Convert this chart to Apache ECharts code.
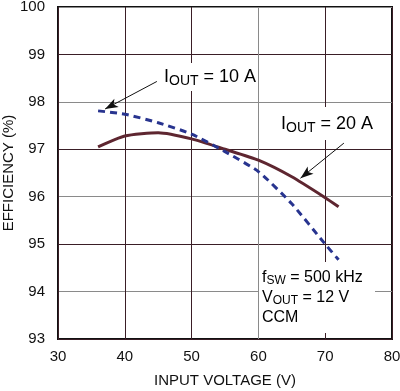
<!DOCTYPE html>
<html><head><meta charset="utf-8">
<script src="https://cdn.jsdelivr.net/npm/echarts@6/dist/echarts.min.js"></script>
<style>html,body{margin:0;padding:0;background:#fff}#c{width:400px;height:391px}</style>
</head><body><div id="c"></div>
<script>
const vin10 = [36, 40, 45, 50, 55, 60, 65, 70, 72];
const eff10 = [97.81, 97.74, 97.56, 97.32, 96.95, 96.53, 95.85, 95.0, 94.67];
const vin20 = [36, 40, 45, 50, 55, 60, 65, 70, 72];
const eff20 = [97.05, 97.28, 97.35, 97.22, 97.0, 96.77, 96.42, 95.98, 95.79];
const xTicks = [30, 40, 50, 60, 70, 80];
const yTicks = [93, 94, 95, 96, 97, 98, 99, 100];
const arrow10 = [[44.8, 98.43], [37.05, 97.85]];
const arrow20 = [[72.8, 97.13], [66.3, 96.39]];

const FONT = 'Liberation Sans Narrow, Liberation Sans, Arial, sans-serif';
const dark = '#3a1e26', gray = '#8a8a8a';
const chart = echarts.init(document.getElementById('c'), null, {renderer: 'canvas'});
const pair = (xs, ys) => xs.map((x, i) => [x, ys[i]]);
chart.setOption({
  animation: false,
  grid: {left: 58, right: 8, top: 7, bottom: 52, show: true, borderColor: '#111', borderWidth: 2,
         backgroundColor: 'transparent', containLabel: false, outerBoundsMode: 'none'},
  xAxis: {
    type: 'value', min: xTicks[0], max: xTicks[xTicks.length - 1], interval: 10,
    name: 'INPUT VOLTAGE (V)', nameLocation: 'middle', nameGap: 34, nameMoveOverlap: false,
    nameTextStyle: {fontFamily: FONT, fontSize: 15, color: '#111'},
    axisLine: {show: false}, axisTick: {show: false},
    axisLabel: {fontFamily: FONT, fontSize: 15, color: '#111', margin: 10},
    splitLine: {show: true, lineStyle: {color: [dark, dark, dark, gray, dark, dark], width: 1}}
  },
  yAxis: {
    type: 'value', min: yTicks[0], max: yTicks[yTicks.length - 1], interval: 1,
    name: 'EFFICIENCY (%)', nameLocation: 'middle', nameGap: 42, nameMoveOverlap: false,
    nameTextStyle: {fontFamily: FONT, fontSize: 15, color: '#111'},
    axisLine: {show: false}, axisTick: {show: false},
    axisLabel: {fontFamily: FONT, fontSize: 15, color: '#111', margin: 13},
    splitLine: {show: true, lineStyle: {color: [dark, gray], width: 1}}
  },
  graphic: [
    {type: 'rect', shape: {x: 259, y: 262, width: 116, height: 71}, style: {fill: '#fff'}, z: 1},
    {type: 'rect', shape: {x: 160, y: 63, width: 95, height: 28}, style: {fill: '#fff'}, z: 1},
    {type: 'rect', shape: {x: 280, y: 107, width: 82, height: 33}, style: {fill: '#fff'}, z: 1},
    {type: 'text', left: 164, top: 68, z: 5, style: {text: '{a|I}{b|OUT}{a| = 10 A}', rich: {a: {fontFamily: FONT, fontSize: 18, color: '#111'}, b: {fontFamily: FONT, fontSize: 14, color: '#111', padding: [9, 0, 0, 0]}}}},
    {type: 'text', left: 281, top: 115, z: 5, style: {text: '{a|I}{b|OUT}{a| = 20 A}', rich: {a: {fontFamily: FONT, fontSize: 18, color: '#111'}, b: {fontFamily: FONT, fontSize: 14, color: '#111', padding: [9, 0, 0, 0]}}}},
    {type: 'text', left: 262, top: 268, z: 5, style: {text: '{a|f}{b|SW}{a| = 500 kHz}\n{a|V}{b|OUT}{a| = 12 V}\n{a|CCM}', rich: {a: {fontFamily: FONT, fontSize: 16, color: '#111', lineHeight: 20}, b: {fontFamily: FONT, fontSize: 12, color: '#111', padding: [7, 0, 0, 0], lineHeight: 20}}}}
  ],
  series: [
    {type: 'line', data: pair(vin20, eff20), smooth: 0.2, symbol: 'none', z: 3,
     lineStyle: {color: '#5e2630', width: 3},
     markLine: {silent: true, symbol: ['none', 'arrow'], symbolSize: [7, 13], label: {show: false},
       lineStyle: {color: '#111', width: 1, type: 'solid'},
       data: [[{coord: arrow10[0]}, {coord: arrow10[1]}], [{coord: arrow20[0]}, {coord: arrow20[1]}]]}},
    {type: 'line', data: pair(vin10, eff10), smooth: 0.2, symbol: 'none', z: 4,
     lineStyle: {color: '#28348f', width: 3, type: [7, 5]}}
  ]
});
</script></body></html>
